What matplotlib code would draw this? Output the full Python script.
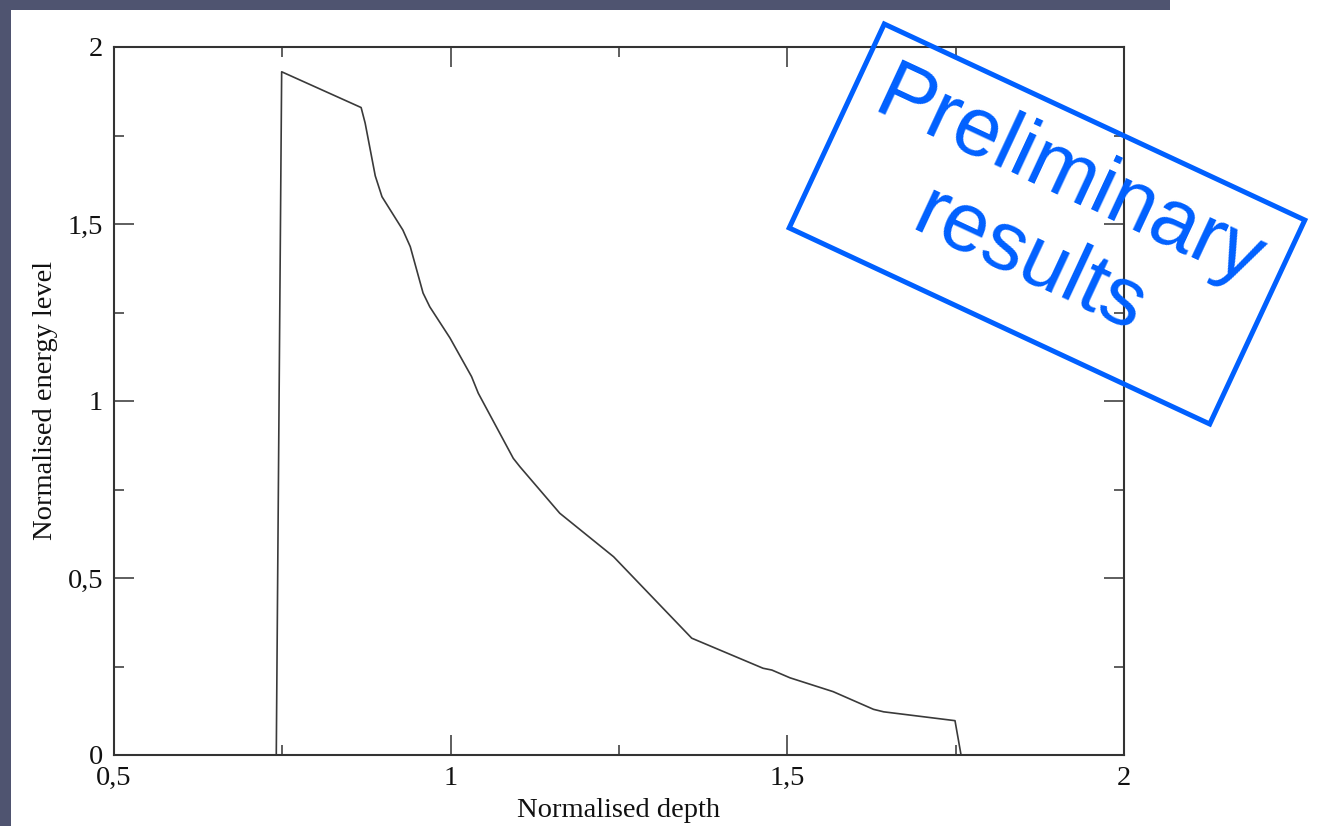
import matplotlib
matplotlib.use("Agg")
import matplotlib.pyplot as plt
from matplotlib.patches import Rectangle
from matplotlib.ticker import FixedLocator, FuncFormatter
from matplotlib.transforms import Affine2D

# ---- data ----
depth = [0.741, 0.749, 0.867, 0.873, 0.888, 0.898, 0.929, 0.940, 0.959, 0.969,
         0.999, 1.031, 1.041, 1.093, 1.103, 1.162, 1.242, 1.358, 1.464, 1.477,
         1.504, 1.568, 1.628, 1.643, 1.749, 1.758]
energy = [0.0, 1.930, 1.829, 1.785, 1.636, 1.577, 1.483, 1.436, 1.305, 1.266,
          1.178, 1.069, 1.022, 0.838, 0.814, 0.683, 0.560, 0.330, 0.245, 0.240,
          0.218, 0.179, 0.129, 0.122, 0.097, 0.0]
x_major = [0.5, 1.0, 1.5, 2.0]
x_minor = [0.75, 1.25, 1.75]
y_major = [0.0, 0.5, 1.0, 1.5, 2.0]
y_minor = [0.25, 0.75, 1.25, 1.75]
x_label = "Normalised depth"
y_label = "Normalised energy level"
stamp_text = "Preliminary\nresults"

W, H, DPI = 1337, 826, 100
fig = plt.figure(figsize=(W / DPI, H / DPI), dpi=DPI)
fig.patch.set_facecolor("white")

# slide frame (dark strips)
frame_col = "#4f5470"
fig.add_artist(Rectangle((0, 0), 11 / W, 1, transform=fig.transFigure,
                         facecolor=frame_col, edgecolor="none", zorder=0))
fig.add_artist(Rectangle((0, 1 - 9.5 / H), 1170 / W, 9.5 / H, transform=fig.transFigure,
                         facecolor=frame_col, edgecolor="none", zorder=0))

ax = fig.add_axes([114 / W, 1 - 755 / H, (1124 - 114) / W, (755 - 47) / H])
ax.plot(depth, energy, color="#3a3a3a", lw=1.2)
ax.set_xlim(0.5, 2.0)
ax.set_ylim(0.0, 2.0)

fmt = FuncFormatter(lambda v, p: f"{v:g}".replace(".", ","))
ax.xaxis.set_major_locator(FixedLocator(x_major))
ax.xaxis.set_minor_locator(FixedLocator(x_minor))
ax.yaxis.set_major_locator(FixedLocator(y_major))
ax.yaxis.set_minor_locator(FixedLocator(y_minor))
ax.xaxis.set_major_formatter(fmt)
ax.yaxis.set_major_formatter(fmt)

serif = ["Liberation Serif", "DejaVu Serif"]
ax.tick_params(which="both", direction="in", top=True, right=True,
               color="#333333", width=1.1)
ax.tick_params(which="major", length=14.4, pad=8, labelsize=20.5)
ax.tick_params(which="minor", length=7.2)
for lab in ax.get_xticklabels() + ax.get_yticklabels():
    lab.set_family(serif)
    lab.set_color("#111111")
for s in ax.spines.values():
    s.set_linewidth(1.5)
    s.set_color("#333333")

ax.set_xlabel(x_label, family=serif, fontsize=20.5, labelpad=5, color="#111111")
ax.set_ylabel(y_label, family=serif, fontsize=20.5, labelpad=7, color="#111111")

# rotated "Preliminary results" stamp (figure pixel coords, y measured from bottom)
cx, cy = 1047, H - 224
bw, bh = 464, 225
px = Affine2D().scale(1 / DPI) + fig.dpi_scale_trans
blue = "#0060ff"
fig.add_artist(Rectangle((cx - bw / 2, cy - bh / 2), bw, bh, angle=-25,
                         rotation_point="center", transform=px,
                         facecolor="none", edgecolor=blue, lw=3.6, zorder=10))
fig.text(cx + 2, cy + 4, stamp_text, transform=px, ha="center", va="center",
         rotation=-25, rotation_mode="anchor", multialignment="center",
         family=["Liberation Sans", "DejaVu Sans"], fontsize=60, color=blue,
         linespacing=1.22, zorder=11)

fig.savefig("out.png", dpi=DPI)
